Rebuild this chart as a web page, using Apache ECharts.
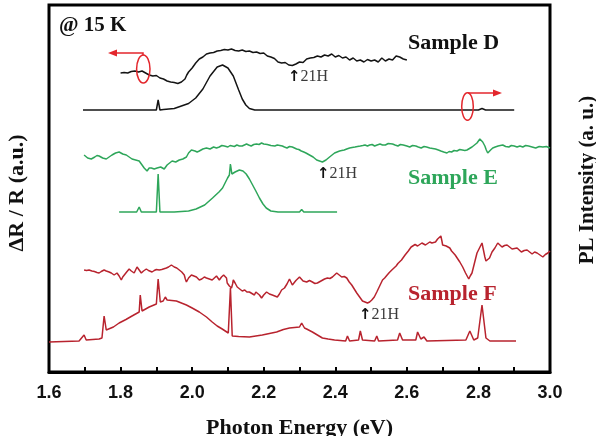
<!DOCTYPE html>
<html>
<head>
<meta charset="utf-8">
<script src="https://cdn.jsdelivr.net/npm/echarts@6/dist/echarts.min.js"></script>
<style>
html,body{margin:0;padding:0;background:#fff;}
#chart{width:596px;height:436px;}
</style>
</head>
<body>
<div id="chart"></div>
<script>
// ---- axis / labels ----
const xMin = 1.6, xMax = 3.0, xTickStep = 0.1;
const xTickLabels = ['1.6', '1.8', '2.0', '2.2', '2.4', '2.6', '2.8', '3.0'];
const yMin = 0, yMax = 367;
const xTitle = 'Photon Energy (eV)';
const yLeftTitle = 'ΔR / R (a.u.)';
const yRightTitle = 'PL Intensity (a. u.)';
const tempLabel = '@ 15 K';
const sampleNames = ['Sample D', 'Sample E', 'Sample F'];
const markLabel = '21H';

// ---- data: [photon energy (eV), offset signal (a.u.)] ----
const sampleD_dR = [
[1.80,299],[1.805,300],[1.81,299.5],[1.815,298.5],[1.82,299],[1.825,300],[1.83,300.5],[1.835,301.5],[1.84,301],[1.845,300.5],[1.85,300],[1.855,301],[1.86,301],[1.865,300],[1.87,299],[1.875,298],[1.88,297],[1.885,297.5],[1.89,296],
[1.895,297],[1.90,296.5],[1.905,295],[1.91,294],[1.915,294.5],[1.92,293],[1.925,292],[1.93,291],[1.935,291.5],[1.94,290],[1.945,290.5],[1.95,289.5],[1.955,289],[1.96,288.5],[1.965,289.5],[1.97,290],[1.975,291],[1.98,293],[1.985,297],[1.99,300],
[1.995,302],[2.00,304],[2.005,306],[2.01,309],[2.015,311],[2.02,313],[2.025,313.5],[2.03,315],[2.035,317],[2.04,318],[2.045,317.5],[2.05,319],[2.055,320],[2.06,319.5],[2.065,320.5],[2.07,321],[2.075,320],[2.08,321.5],[2.085,322],[2.09,322.5],
[2.095,321.5],[2.10,322],[2.105,322.5],[2.11,323],[2.115,322],[2.12,321.5],[2.125,322],[2.13,321],[2.135,322.5],[2.14,322],[2.145,321],[2.15,320.5],[2.155,321.5],[2.16,321],[2.165,320],[2.17,319.5],[2.175,320.5],[2.18,320],[2.185,319],[2.19,318.5],
[2.195,319.5],[2.20,319],[2.205,317.5],[2.21,316],[2.215,316.5],[2.22,315],[2.225,314],[2.23,313.5],[2.235,311.5],[2.24,310],[2.245,310.5],[2.25,309],[2.255,308.5],[2.26,309.5],[2.265,308],[2.27,307],[2.275,306],[2.28,306.5],[2.285,307],[2.29,308],
[2.295,309],[2.30,310],[2.305,311],[2.31,309.5],[2.315,311.5],[2.32,313],[2.325,312.5],[2.33,314],[2.335,313],[2.34,314.5],[2.345,315.5],[2.35,316],[2.355,314.5],[2.36,315],[2.365,316.5],[2.37,317],[2.375,315.5],[2.38,316],[2.385,317.5],[2.39,318],
[2.395,316],[2.40,315],[2.405,317],[2.41,316.5],[2.415,315],[2.42,314],[2.425,316],[2.43,315],[2.435,313],[2.44,312],[2.445,313.5],[2.45,314],[2.455,312],[2.46,311],[2.465,313],[2.47,312],[2.475,311],[2.48,310],[2.485,311.5],[2.49,312.5],
[2.495,312],[2.50,311],[2.505,313],[2.51,312],[2.515,311],[2.52,310],[2.525,312],[2.53,314],[2.535,312.5],[2.54,311],[2.545,312],[2.55,313],[2.555,313.5],[2.56,312],[2.565,314],[2.57,316],[2.575,315.5],[2.58,315],[2.585,313.5],[2.59,313],[2.595,313.5],[2.60,312]
];
const sampleD_PL = [
[1.695,262],[1.90,262],[1.905,272],[1.91,262],[1.92,262.5],[1.95,263.5],[1.97,266],[1.99,268.5],[2.01,274],[2.03,283],
[2.05,296],[2.07,305],[2.085,307],[2.10,304],[2.115,296],[2.13,282],[2.14,273],[2.15,267],[2.16,263.5],[2.175,262],
[2.80,262],[2.81,263.5],[2.82,262],[2.90,262]
];
const sampleE_dR = [
[1.698,217],[1.703,215.5],[1.708,214],[1.713,214.5],[1.718,213],[1.723,214],[1.728,215],[1.734,216.5],[1.74,216],[1.745,215],[1.75,214],[1.755,213.5],[1.76,213],[1.764,214],[1.768,215],[1.772,216],[1.776,217],[1.781,218.5],[1.786,219],[1.791,219.5],
[1.796,220],[1.801,219],[1.806,218],[1.811,218.5],[1.816,217],[1.82,216],[1.824,215],[1.828,214.5],[1.832,213],[1.837,213.5],[1.842,212],[1.847,212.5],[1.852,211],[1.856,209],[1.86,207],[1.863,205],[1.866,204],[1.87,202],[1.874,201],
[1.877,203],[1.88,204],[1.883,203],[1.886,204],[1.89,205],[1.894,203],[1.898,204.5],[1.902,204],[1.907,206],[1.912,205],[1.917,204],[1.922,203],[1.926,205],[1.93,207],[1.937,209],[1.944,211],[1.949,209],[1.954,210],[1.959,211.5],[1.964,212],
[1.969,211],[1.974,213],[1.979,214],[1.984,215],[1.987,217],[1.99,219],[1.994,220.5],[1.998,222],[2.003,221.5],[2.008,221],[2.014,220],[2.02,221],[2.025,222.5],[2.03,223],[2.035,222],[2.04,224],[2.045,224.5],[2.05,223],[2.055,224],[2.06,225],
[2.068,224],[2.076,225],[2.083,226.5],[2.09,226],[2.095,224.5],[2.10,225],[2.106,226.5],[2.112,226],[2.118,225.5],[2.125,227],[2.132,226],[2.14,226],[2.146,227],[2.152,228],[2.158,227],[2.165,226],[2.172,227.5],[2.18,228],[2.187,227.5],[2.194,229],
[2.2,228],[2.205,227],[2.21,227.5],[2.215,226],[2.22,226.5],[2.224,225],[2.231,226],[2.238,227],[2.245,226.5],[2.252,226],[2.258,225],[2.265,224],[2.272,225.5],[2.28,225],[2.286,224],[2.292,223],[2.298,222.5],[2.305,221],[2.312,220],[2.318,219],
[2.323,218],[2.328,217],[2.333,216],[2.338,215],[2.343,213],[2.348,212],[2.352,211.5],[2.356,211],[2.36,210.5],[2.364,210],[2.369,211],[2.374,212],[2.379,213.5],[2.384,215],[2.391,217],[2.398,219],[2.405,220],[2.412,221],[2.418,221.5],[2.425,222],
[2.432,223],[2.44,224],[2.447,224.5],[2.455,225],[2.462,225.5],[2.47,226],[2.477,226.5],[2.483,227],[2.49,226],[2.496,227],[2.503,227.5],[2.51,226],[2.517,227],[2.525,228],[2.532,227],[2.54,227],[2.548,228.5],[2.56,228],[2.567,227],[2.575,226],
[2.582,227.5],[2.59,227],[2.6,226],[2.608,225],[2.616,226.5],[2.625,226],[2.632,225],[2.64,224],[2.648,225.5],[2.655,225],[2.66,224.5],[2.664,224],[2.672,223.5],[2.68,223],[2.688,222],[2.695,221],[2.703,220],[2.712,219],[2.718,220.5],[2.725,220],
[2.732,221.5],[2.74,221],[2.748,222.5],[2.755,222],[2.762,221.5],[2.768,222],[2.775,223.5],[2.782,225],[2.789,227],[2.796,229],[2.8,231],[2.804,233],[2.808,232],[2.812,230],[2.815,228],[2.818,226],[2.822,222],[2.826,219],[2.83,220.5],[2.834,222],
[2.84,224],[2.847,225],[2.855,226],[2.861,226.5],[2.868,227],[2.876,225.5],[2.885,225],[2.892,226.5],[2.90,226],[2.908,225],[2.916,226],[2.924,225],[2.932,226.5],[2.94,226],[2.95,225],[2.96,224],[2.97,225.5],[2.98,225],[2.99,225.5],[3.00,224]
];
const sampleE_PL = [
[1.796,160],[1.845,160],[1.852,165],[1.858,160],[1.90,160],[1.905,198],[1.91,160],[1.95,160],[1.99,161],[2.011,163],
[2.035,167],[2.057,174],[2.075,180],[2.085,184],[2.099,194],[2.104,197],[2.107,208],[2.111,198],[2.12,200],[2.132,202],
[2.142,201],[2.151,198],[2.16,193],[2.169,187],[2.178,181],[2.188,174],[2.198,168],[2.207,164],[2.22,161],[2.24,160],
[2.30,160],[2.306,162.5],[2.312,160],[2.405,160]
];
const sampleF_dR = [
[1.698,102],[1.705,101.5],[1.712,102],[1.72,101],[1.727,100.5],[1.734,99.5],[1.74,99],[1.746,100.5],[1.75,101.5],[1.754,102],[1.76,101],[1.768,100],[1.774,99],[1.778,98.5],[1.782,97],[1.786,98],[1.79,99],[1.796,96],[1.802,92],[1.806,95],
[1.81,97],[1.817,100],[1.824,103],[1.83,101],[1.834,100],[1.838,99],[1.842,102],[1.846,105],[1.852,102],[1.858,99],[1.864,101],[1.872,103],[1.878,101.5],[1.883,100.5],[1.888,100],[1.894,101.5],[1.9,102.5],[1.908,102],[1.915,102.5],[1.92,103.5],
[1.928,104],[1.934,105],[1.938,106.5],[1.942,107],[1.946,106],[1.95,105],[1.957,104],[1.964,102],[1.971,100],[1.978,97],[1.981,93],[1.984,90],[1.99,94],[1.998,97],[2.005,96],[2.012,95],[2.016,93],[2.02,92],[2.027,93],[2.034,95],
[2.04,94],[2.048,93],[2.056,92],[2.062,94],[2.068,96],[2.072,94],[2.076,92],[2.082,95],[2.088,97],[2.093,99],[2.096,94],[2.098,89],[2.104,86],[2.11,84],[2.113,88],[2.115,92],[2.12,89],[2.126,85],[2.133,83],[2.14,81],
[2.147,82],[2.153,80],[2.16,80],[2.167,78.5],[2.174,77],[2.178,80],[2.182,82],[2.188,77],[2.194,74],[2.2,77],[2.208,80],[2.216,78],[2.224,77],[2.231,76],[2.238,75],[2.244,78],[2.25,82],[2.254,83],[2.258,84],[2.265,88],
[2.272,93],[2.276,90],[2.28,87],[2.285,89],[2.29,91.5],[2.295,93],[2.30,95],[2.305,93],[2.31,91],[2.315,90],[2.32,90],[2.328,91.5],[2.336,90],[2.343,88.5],[2.35,89],[2.36,91],[2.37,93],[2.378,94],[2.385,93.5],[2.392,95],
[2.398,97],[2.404,99],[2.411,97],[2.418,95],[2.425,95.5],[2.432,94],[2.439,90],[2.446,87],[2.453,83],[2.46,79],[2.468,75],[2.476,71],[2.483,70],[2.49,69],[2.496,70],[2.502,72],[2.509,75],[2.516,80],[2.524,86],[2.532,92],
[2.538,94],[2.545,97],[2.551,99.5],[2.558,102],[2.564,104],[2.57,106],[2.575,108.5],[2.58,110],[2.585,112],[2.59,114],[2.595,117],[2.60,119],[2.604,121],[2.608,123],[2.612,125],[2.616,127],[2.623,127.5],[2.63,126],[2.636,127.5],[2.642,129],
[2.647,128],[2.652,127],[2.658,128.5],[2.664,130],[2.67,129],[2.675,128],[2.68,130],[2.686,133],[2.69,134],[2.695,136],[2.698,131],[2.70,127],[2.705,127.5],[2.71,126],[2.715,125],[2.72,124],[2.725,121],[2.73,119],[2.735,117],[2.74,115],
[2.748,110],[2.756,105],[2.764,99],[2.773,93],[2.777,96],[2.782,99],[2.789,109],[2.796,119],[2.803,124],[2.81,129],[2.814,122],[2.818,115],[2.821,111],[2.824,109],[2.831,114],[2.838,120],[2.846,124],[2.854,129],[2.86,127],[2.866,125],
[2.873,126.5],[2.88,127],[2.887,125],[2.894,123],[2.901,123.5],[2.908,124],[2.914,122],[2.92,120],[2.928,121.5],[2.936,122],[2.943,120],[2.95,118],[2.957,120],[2.964,119],[2.972,117],[2.98,115],[2.987,117.5],[2.994,119],[3.00,121]
];
const sampleF_PL = [
[1.60,30],[1.684,31],[1.698,37],[1.704,32],[1.74,33],[1.748,34],[1.754,56],[1.76,42],[1.78,45],[1.796,49],[1.815,52.5],[1.832,56],
[1.852,60],[1.855,77],[1.86,61],[1.88,65],[1.90,68],[1.905,93],[1.911,70],[1.919,71],[1.925,75],[1.93,72],
[1.956,71],[1.984,67],[2.0,64],[2.02,60],[2.04,55],[2.056,50],[2.07,46],[2.084,43],[2.101,39],[2.107,84],[2.112,36],[2.13,35.5],[2.16,35],[2.196,37],
[2.216,38.5],[2.236,40],[2.255,42.5],[2.272,44],[2.30,45],[2.306,49],[2.314,44],[2.32,43],[2.336,40],[2.35,37],[2.364,34],[2.38,33],[2.398,32],[2.429,31],
[2.434,36],[2.44,31],[2.465,32],[2.47,41],[2.476,32],[2.51,31],[2.516,36],[2.521,31],[2.574,32],[2.58,39],
[2.588,32],[2.625,32],[2.63,40],[2.639,33],[2.648,35],[2.656,31],[2.765,32],[2.776,41],[2.787,32],[2.798,34],
[2.81,67],[2.821,34],[2.832,31],[2.905,31]
];

const BLACK = '#141414', GREEN = '#2ea65a', RED = '#b8232e', ANNO = '#e3262c';
const SERIF = '"Liberation Serif","Times New Roman",serif';

const chart = echarts.init(document.getElementById('chart'), null, {renderer: 'canvas'});

function line(name, data, color) {
  return {
    name: name, type: 'line', data: data, showSymbol: false, symbol: 'none',
    lineStyle: {color: color, width: 1.5}, animation: false, z: 3
  };
}

const markRich = {
  a: {fontFamily: '"DejaVu Sans",sans-serif', fontWeight: 'bold', fontSize: 15, fill: '#111'},
  b: {fontFamily: SERIF, fontSize: 16, fill: '#3a3a3a'}
};

const option = {
  backgroundColor: '#fff',
  animation: false,
  grid: {left: 49, right: 46, top: 5, bottom: 64, containLabel: false, outerBoundsMode: 'none',
    show: true, borderColor: '#000', borderWidth: 3, backgroundColor: 'transparent'},
  xAxis: {
    type: 'value', min: xMin, max: xMax, interval: xTickStep,
    name: xTitle, nameLocation: 'middle', nameGap: 45,
    nameTextStyle: {fontFamily: SERIF, fontWeight: 'bold', fontSize: 22, color: '#111'},
    axisLine: {show: true, lineStyle: {color: '#000', width: 3}},
    axisTick: {show: true, inside: true, length: 5, lineStyle: {color: '#000', width: 2}},
    axisLabel: {
      margin: 12, fontFamily: '"Liberation Sans",Arial,sans-serif', fontWeight: 'bold', fontSize: 18, color: '#111',
      formatter: function (v) {
        const s = v.toFixed(1);
        return xTickLabels.indexOf(s) >= 0 ? s : '';
      }
    },
    splitLine: {show: false}
  },
  yAxis: {
    type: 'value', min: yMin, max: yMax, show: true,
    axisLine: {show: false}, axisTick: {show: false}, axisLabel: {show: false}, splitLine: {show: false}
  },
  series: [
    line('Sample D ΔR/R', sampleD_dR, BLACK),
    line('Sample D PL', sampleD_PL, BLACK),
    line('Sample E ΔR/R', sampleE_dR, GREEN),
    line('Sample E PL', sampleE_PL, GREEN),
    line('Sample F ΔR/R', sampleF_dR, RED),
    line('Sample F PL', sampleF_PL, RED)
  ],
  graphic: [
    {type: 'text', left: 59, top: 15, style: {text: tempLabel, font: 'bold 21px ' + SERIF, fill: '#111'}},
    {type: 'text', x: 408, y: 43, style: {text: sampleNames[0], font: 'bold 22px ' + SERIF, fill: '#111', textVerticalAlign: 'middle'}},
    {type: 'text', x: 408, y: 178, style: {text: sampleNames[1], font: 'bold 22px ' + SERIF, fill: GREEN, textVerticalAlign: 'middle'}},
    {type: 'text', x: 408, y: 294, style: {text: sampleNames[2], font: 'bold 22px ' + SERIF, fill: RED, textVerticalAlign: 'middle'}},
    // 21H markers
    {type: 'text', x: 288, y: 77, style: {text: '{a|↑}{b|' + markLabel + '}', textVerticalAlign: 'middle', rich: markRich}},
    {type: 'text', x: 317, y: 174, style: {text: '{a|↑}{b|' + markLabel + '}', textVerticalAlign: 'middle', rich: markRich}},
    {type: 'text', x: 359, y: 315, style: {text: '{a|↑}{b|' + markLabel + '}', textVerticalAlign: 'middle', rich: markRich}},
    // axis titles
    {type: 'text', x: 17, y: 193, rotation: Math.PI / 2,
      style: {text: yLeftTitle, font: 'bold 22px ' + SERIF, fill: '#111', textAlign: 'center', textVerticalAlign: 'middle'}},
    {type: 'text', x: 588, y: 180, rotation: Math.PI / 2,
      style: {text: yRightTitle, font: 'bold 21px ' + SERIF, fill: '#111', textAlign: 'center', textVerticalAlign: 'middle'}},
    // red annotation: left axis
    {type: 'ellipse', shape: {cx: 143.3, cy: 69, rx: 6.7, ry: 14}, style: {fill: 'none', stroke: ANNO, lineWidth: 1.5}, z: 10},
    {type: 'polyline', shape: {points: [[143, 55.5], [143, 53], [114, 53]]}, style: {fill: 'none', stroke: ANNO, lineWidth: 1.5}, z: 10},
    {type: 'polygon', shape: {points: [[108, 53], [117, 49.5], [117, 56.5]]}, style: {fill: ANNO}, z: 10},
    // red annotation: right axis
    {type: 'ellipse', shape: {cx: 467.5, cy: 106.5, rx: 5.8, ry: 13.7}, style: {fill: 'none', stroke: ANNO, lineWidth: 1.5}, z: 10},
    {type: 'line', shape: {x1: 468, y1: 93, x2: 496, y2: 93}, style: {stroke: ANNO, lineWidth: 1.5}, z: 10},
    {type: 'polygon', shape: {points: [[502, 93], [493, 89.5], [493, 96.5]]}, style: {fill: ANNO}, z: 10}
  ]
};
chart.setOption(option);
</script>
</body>
</html>
